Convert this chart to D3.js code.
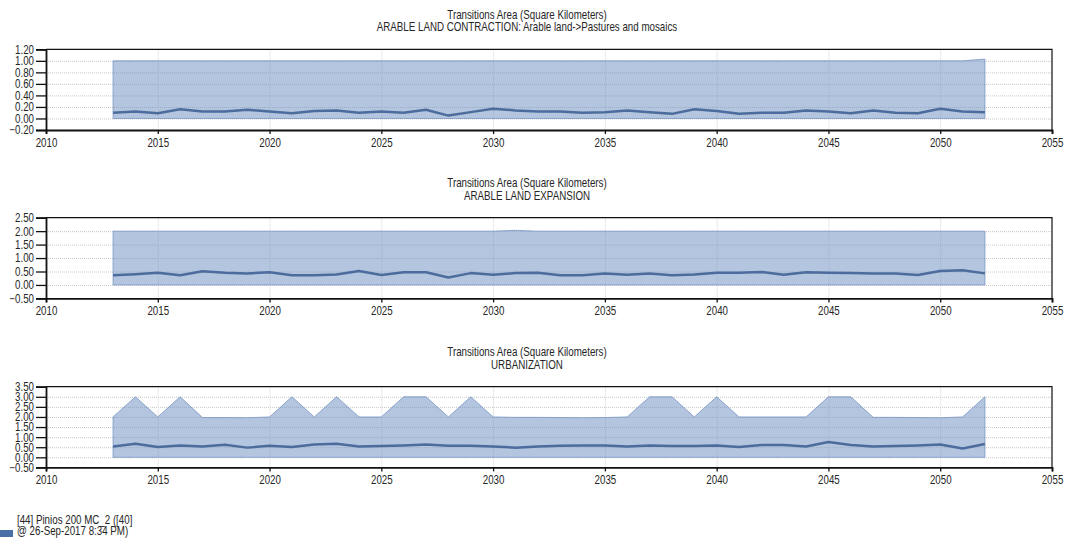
<!DOCTYPE html>
<html>
<head>
<meta charset="utf-8">
<script src="https://cdn.jsdelivr.net/npm/d3@7"></script>
<style>
  html, body { margin: 0; padding: 0; background: #fff; }
  svg { display: block; }
  text { font-family: "Liberation Sans", Arial, sans-serif; font-size: 12.2px; fill: #262626; }
</style>
</head>
<body>
<svg id="chart" width="1065" height="544"></svg>
<script>
// Simulation years
const years = d3.range(2013, 2053);

// Arable land contraction: mean and upper band (km²)
const contractionMean = [0.10,0.12,0.09,0.16,0.12,0.12,0.15,0.12,0.09,0.13,
                         0.14,0.10,0.12,0.10,0.15,0.05,0.11,0.17,0.14,0.12,
                         0.12,0.10,0.11,0.14,0.11,0.08,0.16,0.13,0.08,0.10,
                         0.10,0.14,0.12,0.09,0.14,0.10,0.09,0.17,0.12,0.11];
const contractionUpper = [1.00,1.00,1.00,1.00,1.00,1.00,1.00,1.00,1.00,1.00,
                          1.00,1.00,1.00,1.00,1.00,1.00,1.00,1.00,1.00,1.00,
                          1.00,1.00,1.00,1.00,1.00,1.00,1.00,1.00,1.00,1.00,
                          1.00,1.00,1.00,1.00,1.00,1.00,1.00,1.00,1.00,1.03];

// Arable land expansion
const expansionMean = [0.36,0.40,0.45,0.36,0.51,0.45,0.43,0.47,0.36,0.36,
                       0.39,0.52,0.37,0.47,0.47,0.28,0.44,0.38,0.44,0.45,
                       0.36,0.36,0.43,0.38,0.43,0.36,0.39,0.45,0.45,0.48,
                       0.38,0.47,0.45,0.44,0.43,0.43,0.37,0.52,0.55,0.43];
const expansionUpper = [2.00,2.00,2.00,2.00,2.00,2.00,2.00,2.00,2.00,2.00,
                        2.00,2.00,2.00,2.00,2.00,2.00,2.00,2.00,2.03,2.00,
                        2.00,2.00,2.00,2.00,2.00,2.00,2.00,2.00,2.00,2.00,
                        2.00,2.00,2.00,2.00,2.00,2.00,2.00,2.00,2.00,2.00];

// Urbanization
const urbanMean = [0.54,0.67,0.51,0.59,0.54,0.62,0.48,0.57,0.51,0.64,
                   0.67,0.54,0.56,0.59,0.64,0.57,0.57,0.54,0.48,0.54,
                   0.57,0.59,0.59,0.54,0.59,0.56,0.56,0.59,0.51,0.61,
                   0.61,0.54,0.76,0.61,0.54,0.56,0.59,0.64,0.44,0.66];
const urbanUpper = [2.00,3.00,2.00,3.00,1.97,1.97,1.96,2.00,3.00,2.00,
                    3.00,2.00,2.00,3.00,3.00,2.00,3.00,2.00,1.98,1.98,
                    1.97,1.96,1.97,2.00,3.00,3.00,2.00,3.00,2.00,2.00,
                    2.00,2.00,3.00,3.00,1.98,1.98,1.97,1.96,2.00,3.00];

// Axis ticks
const xTicks = [2010, 2015, 2020, 2025, 2030, 2035, 2040, 2045, 2050, 2055];
const yTicksContraction = [-0.20, 0.00, 0.20, 0.40, 0.60, 0.80, 1.00, 1.20];
const yTicksExpansion = [-0.50, 0.00, 0.50, 1.00, 1.50, 2.00, 2.50];
const yTicksUrban = [-0.50, 0.00, 0.50, 1.00, 1.50, 2.00, 2.50, 3.00, 3.50];

const mainTitle = "Transitions Area (Square Kilometers)";
const panels = [
  { subtitle: "ARABLE LAND CONTRACTION: Arable land->Pastures and mosaics",
    mean: contractionMean, upper: contractionUpper, ticks: yTicksContraction, top: 49.3 },
  { subtitle: "ARABLE LAND EXPANSION",
    mean: expansionMean, upper: expansionUpper, ticks: yTicksExpansion, top: 217.7 },
  { subtitle: "URBANIZATION",
    mean: urbanMean, upper: urbanUpper, ticks: yTicksUrban, top: 386.7 }
];
const legendLines = ["[44] Pinios 200 MC_2 ([40]", "@ 26-Sep-2017 8:34 PM)"];

// condensed lettering: squeeze glyphs horizontally around their anchor
const squeeze = 0.80;
function narrow(sel) {
  sel.each(function () {
    const t = d3.select(this);
    const x0 = +(t.attr("x") || 0);
    t.attr("x", x0 / squeeze).attr("transform", `scale(${squeeze},1)`);
  });
}

const svg = d3.select("#chart");
const left = 46, right = 1052, plotH = 80.7;
const x = d3.scaleLinear().domain([2010, 2055]).range([left, right]);

panels.forEach(p => {
  const y = d3.scaleLinear()
    .domain([p.ticks[0], p.ticks[p.ticks.length - 1]])
    .range([p.top + plotH, p.top]);
  const g = svg.append("g");

  // titles
  g.append("text").attr("class", "nt").attr("x", 527).attr("y", p.top - 30.5)
    .attr("text-anchor", "middle").text(mainTitle);
  g.append("text").attr("class", "nt").attr("x", 527).attr("y", p.top - 18)
    .attr("text-anchor", "middle").text(p.subtitle);

  // dotted grid
  g.append("g").selectAll("line").data(p.ticks.slice(1, -1)).join("line")
    .attr("x1", left).attr("x2", right)
    .attr("y1", d => y(d) + 0.5).attr("y2", d => y(d) + 0.5)
    .attr("stroke", "#c8c8c8").attr("stroke-dasharray", "1,1");
  g.append("g").selectAll("line").data(xTicks.slice(1, -1)).join("line")
    .attr("x1", d => x(d) + 0.5).attr("x2", d => x(d) + 0.5)
    .attr("y1", p.top).attr("y2", p.top + plotH)
    .attr("stroke", "#d4d4d4").attr("stroke-dasharray", "1,1");

  // band from zero to the upper value
  const area = d3.area()
    .x((d, i) => x(years[i]))
    .y0(() => y(0))
    .y1(d => y(d));
  g.append("path").datum(p.upper).attr("d", area)
    .attr("fill", "rgb(104,140,192)").attr("fill-opacity", 0.5)
    .attr("stroke", "rgb(120,150,195)").attr("stroke-width", 0.8);

  // mean line
  const line = d3.line().x((d, i) => x(years[i])).y(d => y(d));
  g.append("path").datum(p.mean).attr("d", line)
    .attr("fill", "none").attr("stroke", "#4b6c9c").attr("stroke-width", 2.5)
    .attr("stroke-linejoin", "round");

  // frame: top and right
  g.append("path")
    .attr("d", `M${left},${p.top}H${right}V${p.top + plotH}`)
    .attr("fill", "none").attr("stroke", "#111").attr("stroke-width", 1.2);

  // y axis
  const ya = g.append("g").attr("transform", `translate(${left},0)`)
    .call(d3.axisLeft(y).tickValues(p.ticks).tickFormat(d3.format(".2f"))
      .tickSize(10).tickPadding(2));
  ya.select(".domain").attr("stroke", "#111").attr("stroke-width", 1.8);
  ya.selectAll(".tick line").attr("stroke", "#111").attr("stroke-width", 1.3);
  ya.selectAll("text").attr("font-size", null).attr("font-family", null).attr("fill", null)
    .attr("class", "nt");

  // x axis
  const xa = g.append("g").attr("transform", `translate(0,${p.top + plotH})`)
    .call(d3.axisBottom(x).tickValues(xTicks).tickFormat(d3.format("d"))
      .tickSize(4).tickPadding(4));
  xa.select(".domain").attr("stroke", "#111").attr("stroke-width", 1.8);
  xa.selectAll(".tick line").attr("stroke", "#111").attr("stroke-width", 1.3);
  xa.selectAll("text").attr("font-size", null).attr("font-family", null).attr("fill", null)
    .attr("class", "nt");
});

// legend
svg.append("rect").attr("x", 0).attr("y", 530).attr("width", 13).attr("height", 7)
  .attr("fill", "#4a6ea6");
svg.append("g").selectAll("text").data(legendLines).join("text")
  .attr("class", "nt")
  .attr("x", 17).attr("y", (d, i) => 524 + i * 11.5).text(d => d);

svg.selectAll("text.nt").call(narrow);
</script>
</body>
</html>
